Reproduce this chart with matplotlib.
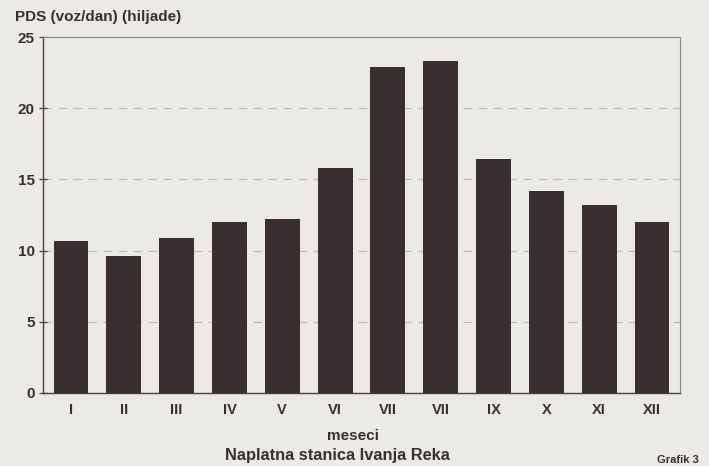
import matplotlib
matplotlib.use("Agg")
import matplotlib.pyplot as plt

months = ["I", "II", "III", "IV", "V", "VI", "VII", "VII", "IX", "X", "XI", "XII"]
values = [10.7, 9.6, 10.85, 12.0, 12.25, 15.8, 22.9, 23.3, 16.4, 14.15, 13.2, 12.0]
yticks = [0, 5, 10, 15, 20, 25]

bg = "#ebeae5"
ink = "#3a2f30"

plt.rcParams['font.family'] = ['Liberation Sans', 'DejaVu Sans']

fig = plt.figure(figsize=(7.09, 4.66), dpi=100, facecolor=bg)
ax = fig.add_axes([0.0607, 0.1567, 0.8983, 0.7639], facecolor=bg)

x = list(range(len(months)))
ax.bar(x, values, width=0.66, color=ink, zorder=3)

ax.set_xlim(-0.53, 11.53)
ax.set_ylim(0, 25)
ax.set_yticks(yticks)
ax.set_xticks(x)
ax.set_xticklabels(months)

for v in yticks[1:-1]:
    ax.axhline(v, color="#bdbbb5", lw=0.9, ls=(0, (7, 5)), zorder=1)

for s in ["left", "bottom"]:
    ax.spines[s].set_color("#4a4040")
    ax.spines[s].set_linewidth(1.0)
for s in ["top", "right"]:
    ax.spines[s].set_color("#8a8682")
    ax.spines[s].set_linewidth(0.8)

ax.tick_params(axis="y", direction="inout", length=6, width=0.9, colors="#4a4040",
               labelsize=11, labelcolor=ink, pad=3)
ax.tick_params(axis="x", length=0, labelsize=10.5, labelcolor=ink, pad=7)
for lab in ax.get_yticklabels() + ax.get_xticklabels():
    lab.set_fontweight("bold")

fig.text(0.021, 0.963, "PDS (voz/dan) (hiljade)", fontsize=11, color=ink,
         ha="left", va="center", fontweight="bold")
fig.text(0.498, 0.064, "meseci", fontsize=11, color=ink, ha="center", va="center",
         fontweight="bold")
fig.text(0.476, 0.022, "Naplatna stanica Ivanja Reka", fontsize=11.8, color=ink,
         ha="center", va="center", fontweight="bold")
fig.text(0.956, 0.013, "Grafik 3", fontsize=8, color=ink, ha="center", va="center",
         fontweight="bold")

fig.savefig("out.png", dpi=100, facecolor=bg)
